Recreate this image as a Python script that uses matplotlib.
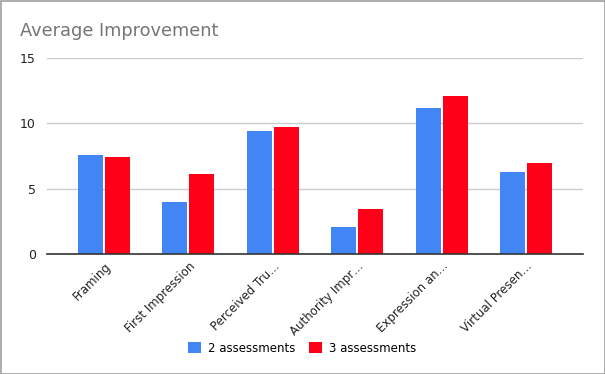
import numpy as np
import matplotlib.pyplot as plt
from matplotlib.patches import Rectangle

categories = ['Framing', 'First Impression', 'Perceived Tru\u2026', 'Authority Impr\u2026',
              'Expression an\u2026', 'Virtual Presen\u2026']
two_assess = [7.55, 4.0, 9.4, 2.1, 11.15, 6.3]
three_assess = [7.4, 6.1, 9.75, 3.45, 12.1, 6.95]
yticks = [0, 5, 10, 15]

blue = '#4285f4'
red = '#ff0019'

fig = plt.figure(figsize=(6.05, 3.74), dpi=100)
ax = fig.add_axes([47/605, 1-254/374, 536/605, 196/374])

x = np.arange(len(categories))
w = 0.296
ax.bar(x - w/2 - 0.012, two_assess, w, color=blue, label='2 assessments', zorder=3)
ax.bar(x + w/2 + 0.012, three_assess, w, color=red, label='3 assessments', zorder=3)

ax.set_xlim(-0.676, len(categories) - 1 + 0.676)
ax.set_ylim(0, 15)
ax.set_yticks(yticks)
ax.set_yticklabels([str(t) for t in yticks], fontsize=9, color='#222222')
ax.set_xticks(x)
ax.set_xticklabels(categories, rotation=45, ha='right', rotation_mode='anchor',
                   fontsize=8.5, color='#222222')
ax.tick_params(axis='y', length=0, pad=8)
ax.tick_params(axis='x', length=0, pad=4)
ax.grid(axis='y', color='#cccccc', linewidth=1, zorder=0)
for s in ['top', 'right', 'left']:
    ax.spines[s].set_visible(False)
ax.spines['bottom'].set_color('#333333')
ax.spines['bottom'].set_linewidth(1.2)
ax.spines['bottom'].set_zorder(4)

fig.text(20/605, 1-31/374, 'Average Improvement', fontsize=12.8, color='#757575', va='center')

leg = fig.legend(loc='center', bbox_to_anchor=(302/605, 1-348/374), ncol=2, frameon=False,
                 fontsize=8.5, handlelength=1.1, handleheight=1.1, columnspacing=1.2,
                 handletextpad=0.6)

fig.patches.append(Rectangle((0.5/605, 0.5/374), 1-1/605, 1-1/374, transform=fig.transFigure,
                             fill=False, edgecolor='#9e9e9e', linewidth=1.2))

fig.savefig('out.png', dpi=100)
